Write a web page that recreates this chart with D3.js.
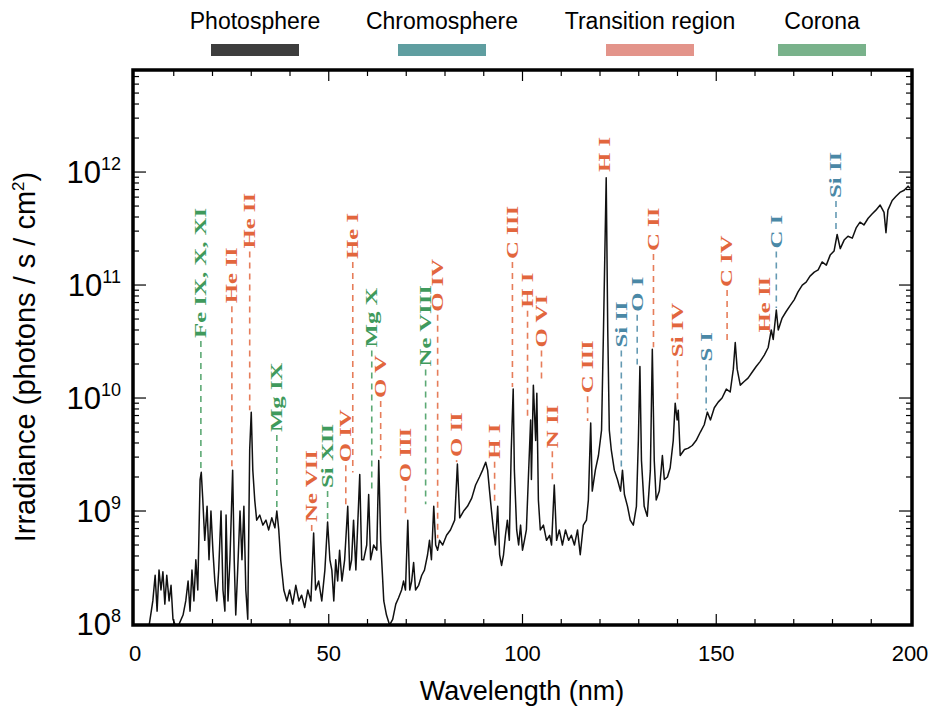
<!DOCTYPE html>
<html>
<head>
<meta charset="utf-8">
<script src="https://cdn.jsdelivr.net/npm/d3@7/dist/d3.min.js"></script>
<style>
  body { margin: 0; background: #fff; }
  svg { display: block; }
</style>
</head>
<body>
<svg id="chart" width="936" height="715"></svg>
<script>
// Solar EUV/FUV spectrum, 0-200 nm, photons / s / cm^2 on a log axis.
// Values.

const specWl = [
  3.5, 4.6, 5.2, 5.7, 6.2, 6.7, 7.2, 7.7, 8.2, 8.8, 9.3, 9.8, 10.8, 12.4, 13.1, 13.7, 14.2, 14.7, 15.2, 15.7,
  16.2, 16.8, 17.1, 17.5, 18.0, 18.6, 19.1, 19.6, 20.1, 20.6, 21.1, 21.6, 22.2, 22.7, 23.2, 23.5, 24.0, 24.5,
  25.2, 25.6, 26.0, 26.5, 27.1, 27.6, 28.1, 28.6, 29.1, 29.6, 30.0, 30.4, 30.9, 31.4, 32.2, 33.0, 33.8, 34.5,
  35.3, 36.1, 36.6, 37.1, 37.6, 38.4, 39.2, 39.9, 40.7, 41.5, 42.3, 43.0, 43.8, 44.6, 45.4, 46.1, 46.6, 47.4,
  48.2, 49.0, 49.7, 50.3, 50.8, 51.3, 51.8, 52.3, 52.8, 53.4, 54.1, 54.9, 55.4, 55.9, 56.4, 57.0, 58.0, 58.5,
  59.0, 59.8, 60.3, 60.8, 61.6, 62.4, 62.9, 63.4, 64.2, 64.9, 65.7, 66.5, 67.3, 68.0, 68.8, 69.3, 69.8, 70.4,
  70.9, 71.4, 71.9, 72.4, 73.2, 74.0, 74.7, 75.5, 76.0, 76.5, 77.1, 77.6, 78.1, 78.6, 79.4, 80.4, 81.4, 82.5,
  83.2, 83.8, 84.8, 85.8, 86.9, 87.9, 88.9, 89.7, 90.5, 91.0, 91.5, 92.0, 92.5, 93.0, 93.6, 94.1, 94.6, 95.1,
  95.6, 96.1, 96.6, 97.1, 97.6, 97.9, 98.5, 99.0, 99.5, 100.0, 100.5, 101.0, 101.5, 102.1, 102.3, 102.8, 103.4,
  103.7, 104.1, 104.6, 105.4, 106.2, 107.0, 107.5, 108.2, 108.8, 109.5, 110.3, 111.1, 111.9, 112.6, 113.4,
  114.2, 114.9, 115.7, 116.5, 117.0, 117.6, 118.0, 118.8, 119.6, 120.4, 120.9, 121.6, 122.0, 122.4, 122.9,
  123.7, 124.5, 125.3, 125.8, 126.3, 127.1, 127.8, 128.6, 129.4, 129.9, 130.3, 130.7, 131.4, 132.2, 133.0,
  133.5, 134.0, 134.5, 135.3, 136.1, 136.6, 137.4, 138.1, 138.9, 139.4, 139.9, 140.2, 140.7, 141.8, 142.8,
  143.8, 144.8, 145.9, 146.9, 147.7, 148.5, 149.5, 150.5, 151.5, 152.6, 153.6, 154.4, 154.9, 155.4, 156.2,
  157.2, 158.2, 159.3, 160.3, 161.3, 162.4, 163.4, 164.2, 164.7, 165.5, 166.0, 167.0, 168.0, 169.1, 170.1,
  171.1, 172.2, 173.2, 174.2, 175.3, 176.3, 177.3, 178.4, 179.4, 180.4, 181.2, 182.0, 183.0, 184.0, 185.1,
  186.1, 187.1, 188.1, 189.2, 190.2, 191.2, 192.3, 193.3, 193.8, 194.3, 195.4, 196.4, 197.4, 198.5, 199.5, 200.0
];

const specIrr = [
  9.0e7, 1.6e8, 2.7e8, 1.3e8, 3.0e8, 2.0e8, 2.9e8, 1.5e8, 2.7e8, 1.6e8, 2.2e8, 1.1e8, 9.0e7, 1.2e8, 1.6e8, 2.4e8, 1.3e8, 3.0e8, 1.6e8, 3.7e8,
  2.0e8, 1.9e9, 2.2e9, 1.25e9, 5.5e8, 1.1e9, 3.7e8, 1.0e9, 4.5e8, 2.4e8, 1.6e8, 3.0e8, 1.0e9, 2.0e8, 1.3e8, 9.2e8, 1.6e8, 3.7e8,
  2.3e9, 3.7e8, 1.2e8, 3.0e8, 1.0e9, 3.7e8, 1.1e9, 2.0e8, 1.1e8, 3.5e9, 7.5e9, 2.3e9, 1.25e9, 8.3e8, 9.2e8, 7.5e8, 8.3e8, 6.8e8,
  8.7e8, 7.1e8, 1.0e9, 6.8e8, 3.7e8, 2.0e8, 1.6e8, 2.0e8, 1.5e8, 2.2e8, 1.6e8, 1.8e8, 1.4e8, 2.0e8, 1.6e8, 6.4e8, 2.0e8, 2.4e8,
  1.6e8, 3.0e8, 8.0e8, 3.7e8, 3.0e8, 1.6e8, 3.7e8, 2.4e8, 4.5e8, 2.4e8, 3.7e8, 1.1e9, 3.0e8, 3.7e8, 8.3e8, 3.0e8, 2.1e9, 3.7e8,
  3.7e8, 5.0e8, 1.4e9, 3.7e8, 5.0e8, 4.5e8, 2.8e9, 5.5e8, 1.6e8, 1.2e8, 9.8e7, 1.1e8, 1.5e8, 1.7e8, 2.0e8, 2.4e8, 2.0e8, 8.3e8,
  2.0e8, 2.4e8, 3.5e8, 2.0e8, 2.2e8, 2.7e8, 3.0e8, 4.1e8, 5.5e8, 3.7e8, 1.1e9, 5.0e8, 4.5e8, 5.5e8, 5.0e8, 6.1e8, 6.8e8, 8.3e8,
  2.6e9, 8.7e8, 1.0e9, 1.1e9, 1.3e9, 1.7e9, 2.0e9, 2.3e9, 2.7e9, 2.3e9, 1.5e9, 1.0e9, 6.8e8, 5.0e8, 1.1e9, 4.1e8, 3.3e8, 4.1e8,
  6.1e8, 8.3e8, 5.5e8, 3.5e9, 1.2e10, 2.3e9, 6.8e8, 5.0e8, 7.5e8, 4.5e8, 5.5e8, 6.8e8, 1.9e9, 6.4e9, 1.9e9, 1.3e10, 4.2e9,
  1.1e10, 1.25e9, 6.8e8, 7.5e8, 5.5e8, 6.1e8, 5.0e8, 1.7e9, 5.5e8, 6.8e8, 5.0e8, 6.8e8, 5.5e8, 6.1e8, 5.0e8,
  6.8e8, 4.1e8, 7.5e8, 8.3e8, 1.25e9, 6.0e9, 1.5e9, 2.3e9, 3.1e9, 5.2e9, 4.0e10, 8.9e11, 4.0e10, 5.2e9, 3.5e9,
  2.3e9, 1.9e9, 1.5e9, 2.3e9, 1.4e9, 1.1e9, 8.3e8, 7.5e8, 1.1e9, 4.2e9, 1.9e10, 2.8e9, 1.1e9, 9.0e8, 2.3e9,
  2.7e10, 2.8e9, 1.25e9, 1.5e9, 3.1e9, 1.9e9, 2.0e9, 2.4e9, 4.2e9, 9.0e9, 6.4e9, 7.8e9, 3.1e9, 3.5e9, 3.6e9,
  3.8e9, 4.2e9, 5.0e9, 5.8e9, 7.5e9, 6.4e9, 8.2e9, 9.2e9, 1.0e10, 1.2e10, 1.13e10, 1.8e10, 3.1e10, 1.8e10, 1.3e10,
  1.4e10, 1.5e10, 1.7e10, 1.9e10, 2.1e10, 2.4e10, 2.8e10, 4.0e10, 3.3e10, 6.0e10, 4.0e10, 5.1e10, 5.8e10, 6.6e10, 7.4e10,
  8.7e10, 1.0e11, 1.06e11, 1.2e11, 1.3e11, 1.36e11, 1.6e11, 1.5e11, 1.84e11, 2.0e11, 2.8e11, 2.1e11, 2.5e11, 2.7e11, 2.6e11,
  3.2e11, 3.6e11, 3.4e11, 3.9e11, 4.25e11, 4.6e11, 5.1e11, 4.4e11, 2.9e11, 4.6e11, 5.6e11, 6.1e11, 6.6e11, 6.9e11, 7.5e11, 7.2e11
];

// Emission line labels
const lineNames = [
  'Fe IX, X, XI', 'He II', 'He II', 'Mg IX', 'Ne VII', 'Si XII', 'O IV', 'He I', 'Mg X', 'O V',
  'O III', 'Ne VIII', 'O IV', 'O II', 'H I', 'C III', 'H I', 'O VI', 'N II', 'C III',
  'H I', 'Si II', 'O I', 'C II', 'Si IV', 'S I', 'C IV', 'He II', 'C I', 'Si II'
];
const lineWl = [
  17.0, 25.0, 29.6, 36.6, 45.6, 49.7, 54.4, 56.2, 61.1, 63.4,
  69.8, 75.0, 78.1, 83.0, 92.8, 97.4, 101.3, 104.9, 107.7, 116.8,
  121.1, 125.5, 129.6, 133.8, 140.0, 147.4, 152.8, 162.6, 165.5, 180.9
];
const lineRegion = [
  'Corona', 'Transition region', 'Transition region', 'Corona', 'Transition region', 'Corona', 'Transition region', 'Transition region', 'Corona', 'Transition region',
  'Transition region', 'Corona', 'Transition region', 'Transition region', 'Transition region', 'Transition region', 'Transition region', 'Transition region', 'Transition region', 'Transition region',
  'Transition region', 'Chromosphere', 'Chromosphere', 'Transition region', 'Transition region', 'Chromosphere', 'Transition region', 'Transition region', 'Chromosphere', 'Chromosphere'
];
// irradiance level where each label starts, and where its leader ends
const lineLabelAt = [
  3.4e10, 6.9e10, 2.1e11, 5.0e9, 8.0e8, 1.6e9, 2.7e9, 1.7e11, 2.8e10, 1.0e10,
  1.8e9, 1.9e10, 5.8e10, 3.0e9, 2.9e9, 1.7e11, 6.3e10, 2.8e10, 3.6e9, 1.1e10,
  1.0e12, 2.8e10, 5.8e10, 2.0e11, 2.3e10, 2.1e10, 9.6e10, 3.8e10, 2.1e11, 5.9e11
];
const lineLeaderTo = [
  2.2e9, 2.3e9, 7.5e9, 1.0e9, 6.4e8, 8.0e8, 1.1e9, 2.1e9, 1.4e9, 2.8e9,
  8.3e8, 1.1e9, 5.5e8, 2.6e9, 1.1e9, 1.2e10, 6.4e9, 1.3e10, 1.7e9, 6.0e9,
  8.9e11, 2.3e9, 1.9e10, 2.7e10, 9.0e9, 7.5e9, 3.1e10, 4.0e10, 6.0e10, 2.8e11
];

const regionNames = ['Photosphere', 'Chromosphere', 'Transition region', 'Corona'];
const xTickLabels = [0, 50, 100, 150, 200];
const yTickExponents = [8, 9, 10, 11, 12];

// styles
const REGION_FILL = {
  'Photosphere': '#3d3d3d',
  'Chromosphere': '#5f9ea0',
  'Transition region': '#e3948a',
  'Corona': '#79b28b'
};
const LABEL_COLOR = {
  'Chromosphere': '#4a88a6',
  'Transition region': '#e2663d',
  'Corona': '#3f9a5c'
};
const LEGEND_CX = [255, 442, 650, 822];
const SANS = '"Liberation Sans", Arial, Helvetica, sans-serif';
const SERIF = '"Liberation Serif", "Times New Roman", serif';

const svg = d3.select('#chart');
const PL = 133, PR = 912, PT = 70, PB = 625;

const x = d3.scaleLinear().domain([0, 200]).range([135, 910]);
const y = d3.scaleLog().domain([1e8, 8e12]).range([624, PT]);

// clip for spectrum
svg.append('defs').append('clipPath').attr('id', 'plotClip')
  .append('rect').attr('x', PL).attr('y', PT).attr('width', PR - PL).attr('height', PB - PT);

// leader lines + labels
const labels = lineNames.map((name, i) => ({
  name, wl: lineWl[i], region: lineRegion[i], from: lineLabelAt[i], to: lineLeaderTo[i]
}));

const lblG = svg.append('g');
lblG.selectAll('line')
  .data(labels.filter(d => y(d.to) - y(d.from) > 6))
  .join('line')
  .attr('x1', d => x(d.wl)).attr('x2', d => x(d.wl))
  .attr('y1', d => y(d.from) + 3)
  .attr('y2', d => y(d.to) - 2)
  .attr('stroke', d => LABEL_COLOR[d.region])
  .attr('stroke-width', 1.6)
  .attr('stroke-opacity', 0.85)
  .attr('stroke-dasharray', '6 5');

lblG.selectAll('text')
  .data(labels)
  .join('text')
  .attr('transform', d => `translate(${x(d.wl)},${y(d.from)}) rotate(-90) scale(1.55,1)`)
  .attr('dominant-baseline', 'central')
  .attr('font-family', SERIF)
  .attr('font-weight', 'bold')
  .attr('font-size', 16)
  .attr('fill', d => LABEL_COLOR[d.region])
  .text(d => d.name);

// spectrum
const spec = specWl.map((w, i) => [w, specIrr[i]]);
svg.append('path')
  .datum(spec)
  .attr('clip-path', 'url(#plotClip)')
  .attr('fill', 'none')
  .attr('stroke', '#111')
  .attr('stroke-width', 1.5)
  .attr('stroke-linejoin', 'round')
  .attr('d', d3.line().x(d => x(d[0])).y(d => y(d[1])));

// ticks (inward on all four sides)
const tickG = svg.append('g').attr('stroke', '#000').attr('stroke-width', 1.2);
const xt = d3.range(10, 200, 10);
tickG.selectAll('.xb').data(xt).join('line')
  .attr('x1', d => x(d)).attr('x2', d => x(d))
  .attr('y1', PB).attr('y2', d => PB - (d % 50 === 0 ? 11 : 6));
tickG.selectAll('.xt').data(xt).join('line')
  .attr('x1', d => x(d)).attr('x2', d => x(d))
  .attr('y1', PT).attr('y2', d => PT + (d % 50 === 0 ? 11 : 6));

const yt = [];
for (let e = 8; e <= 12; e++) {
  for (let m = 1; m <= 9; m++) {
    const v = m * Math.pow(10, e);
    if (v > 1e8 && v < 8e12) yt.push({ v, major: m === 1 });
  }
}
tickG.selectAll('.yl').data(yt).join('line')
  .attr('x1', PL).attr('x2', d => PL + (d.major ? 13 : 6))
  .attr('y1', d => y(d.v)).attr('y2', d => y(d.v));
tickG.selectAll('.yr').data(yt).join('line')
  .attr('x1', PR).attr('x2', d => PR - (d.major ? 13 : 6))
  .attr('y1', d => y(d.v)).attr('y2', d => y(d.v));

// frame
svg.append('rect')
  .attr('x', PL).attr('y', PT).attr('width', PR - PL).attr('height', PB - PT)
  .attr('fill', 'none').attr('stroke', '#000').attr('stroke-width', 3.5);

// x tick labels
svg.append('g').selectAll('text')
  .data(xTickLabels).join('text')
  .attr('x', d => x(d)).attr('y', 661)
  .attr('text-anchor', 'middle')
  .attr('font-family', SANS).attr('font-size', 22)
  .text(d => d);

// y tick labels 10^n
const yl = svg.append('g').selectAll('text')
  .data(yTickExponents).join('text')
  .attr('x', 121).attr('y', d => y(Math.pow(10, d)) + 11)
  .attr('text-anchor', 'end')
  .attr('font-family', SANS).attr('font-size', 31);
yl.append('tspan').text('10');
yl.append('tspan').attr('font-size', 18).attr('dy', -13).text(d => d);

// axis titles
svg.append('text')
  .attr('x', 522).attr('y', 700)
  .attr('text-anchor', 'middle')
  .attr('font-family', SANS).attr('font-size', 27)
  .text('Wavelength (nm)');

const yTitle = svg.append('text')
  .attr('transform', 'translate(35,357) rotate(-90)')
  .attr('text-anchor', 'middle')
  .attr('font-family', SANS).attr('font-size', 29);
yTitle.append('tspan').text('Irradiance (photons / s / cm');
yTitle.append('tspan').attr('font-size', 17).attr('dy', -11).text('2');
yTitle.append('tspan').attr('dy', 11).text(')');

// region legend across the top
const lg = svg.append('g').selectAll('g')
  .data(regionNames).join('g')
  .attr('transform', (d, i) => `translate(${LEGEND_CX[i]},0)`);
lg.append('text')
  .attr('y', 29).attr('text-anchor', 'middle')
  .attr('font-family', SANS).attr('font-size', 23)
  .text(d => d);
lg.append('rect')
  .attr('x', -44).attr('y', 44).attr('width', 88).attr('height', 12)
  .attr('fill', d => REGION_FILL[d]);
</script>
</body>
</html>
